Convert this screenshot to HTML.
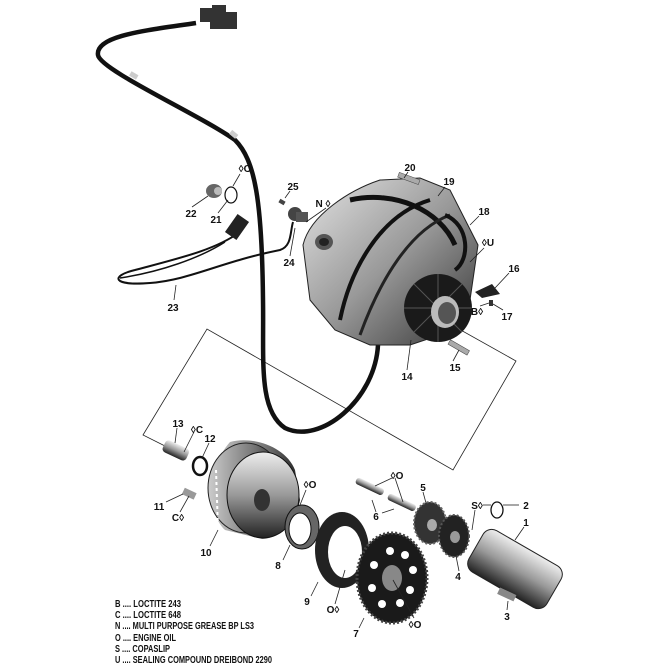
<!DOCTYPE html>
<html><head><meta charset="utf-8"><style>
html,body{margin:0;padding:0;background:#fff}
svg{display:block}
text{font-family:"Liberation Sans",sans-serif;font-weight:bold;font-size:10px;fill:#111}
.l{stroke:#222;stroke-width:0.8;fill:none}
</style></head><body>
<svg width="667" height="667" viewBox="0 0 667 667" xmlns="http://www.w3.org/2000/svg">
<defs>
<linearGradient id="g1" x1="0" y1="0" x2="1" y2="1"><stop offset="0" stop-color="#e4e4e4"/><stop offset="0.5" stop-color="#999"/><stop offset="1" stop-color="#333"/></linearGradient>
<linearGradient id="g2" x1="0" y1="0" x2="0" y2="1"><stop offset="0" stop-color="#eee"/><stop offset="0.5" stop-color="#999"/><stop offset="1" stop-color="#222"/></linearGradient>
<linearGradient id="g3" x1="0" y1="0" x2="1" y2="0"><stop offset="0" stop-color="#ccc"/><stop offset="0.6" stop-color="#777"/><stop offset="1" stop-color="#222"/></linearGradient>
</defs>
<rect width="667" height="667" fill="#fff"/>
<polyline class="l" points="165,446 143,435 207,329 453,470 516,361 425,310"/>
<path d="M196,23 C150,30 95,35 98,55 C100,70 200,115 235,140 C255,160 262,200 263,300 C264,360 258,410 285,428 C320,445 375,400 378,345" fill="none" stroke="#111" stroke-width="4.5"/>
<rect x="130" y="73" width="8" height="5" fill="#ccc" transform="rotate(30 134 75)"/>
<rect x="230" y="132" width="8" height="5" fill="#ccc" transform="rotate(40 234 134)"/>
<g fill="#333"><rect x="200" y="8" width="12" height="14"/><rect x="212" y="5" width="14" height="12"/><rect x="210" y="17" width="14" height="12"/><rect x="224" y="12" width="13" height="17"/></g>
<path d="M240,232 C215,250 180,258 135,270 C110,276 112,286 150,283 C190,280 220,262 280,250 C292,246 290,232 293,222" fill="none" stroke="#111" stroke-width="2"/>
<path d="M225,242 C200,258 160,272 120,278" fill="none" stroke="#111" stroke-width="1.5"/>
<rect x="230" y="216" width="14" height="22" fill="#222" transform="rotate(35 237 227)"/>
<circle cx="295" cy="214" r="7" fill="#444"/><rect x="296" y="212" width="12" height="10" fill="#555"/>
<ellipse cx="214" cy="191" rx="8" ry="7" fill="#666"/><ellipse cx="218" cy="191" rx="4" ry="4" fill="#bbb"/>
<ellipse cx="231" cy="195" rx="6" ry="8" fill="none" stroke="#111" stroke-width="1.2"/>
<rect x="279" y="200" width="6" height="4" fill="#444" transform="rotate(30 282 202)"/>
<path d="M303,245 C310,215 350,190 380,180 L420,178 L450,190 L478,245 L470,300 L455,330 L410,345 L370,345 L335,330 L310,300 Z" fill="url(#g1)" stroke="#222" stroke-width="1"/>
<path d="M350,200 C395,190 440,210 455,245" fill="none" stroke="#111" stroke-width="5"/>
<path d="M340,320 C350,270 380,215 430,200" fill="none" stroke="#111" stroke-width="4"/>
<path d="M360,335 C380,280 410,230 450,215" fill="none" stroke="#222" stroke-width="3"/>
<path d="M445,215 C470,225 470,260 455,270" fill="none" stroke="#111" stroke-width="4"/>
<ellipse cx="324" cy="242" rx="9" ry="8" fill="#555"/><ellipse cx="324" cy="242" rx="5" ry="4" fill="#222"/>
<circle cx="438" cy="308" r="34" fill="#1a1a1a"/>
<g stroke="#555" stroke-width="1">
<line x1="438" y1="274" x2="438" y2="342"/><line x1="404" y1="308" x2="472" y2="308"/><line x1="414" y1="284" x2="462" y2="332"/><line x1="462" y1="284" x2="414" y2="332"/>
</g>
<ellipse cx="445" cy="312" rx="14" ry="16" fill="#bbb"/><ellipse cx="447" cy="313" rx="9" ry="11" fill="#555"/>
<path d="M475,292 L492,284 L500,294 L482,298 Z" fill="#222"/>
<rect x="489" y="300" width="4" height="6" fill="#333"/>
<rect x="448" y="345" width="22" height="5" fill="#aaa" stroke="#444" stroke-width=".5" transform="rotate(30 459 347)"/>
<rect x="398" y="176" width="22" height="5" fill="#aaa" stroke="#444" stroke-width=".5" transform="rotate(20 409 178)"/>
<rect x="163" y="444" width="26" height="13" rx="4" fill="url(#g2)" transform="rotate(25 176 450)"/>
<ellipse cx="200" cy="466" rx="7" ry="9" fill="none" stroke="#111" stroke-width="2.5"/>
<rect x="183" y="490" width="13" height="7" fill="#999" transform="rotate(25 189 493)"/>
<!-- flywheel -->
<path d="M230,442 C250,436 285,445 295,470 L300,500 C295,525 280,538 262,539 L225,530 C208,515 205,470 230,442 Z" fill="url(#g3)"/>
<ellipse cx="246" cy="488" rx="38" ry="45" fill="url(#g3)" stroke="#222"/>
<ellipse cx="263" cy="495" rx="36" ry="43" fill="url(#g2)" stroke="#111"/>
<ellipse cx="262" cy="500" rx="8" ry="11" fill="#333"/>
<path d="M216,470 L218,530" stroke="#fff" stroke-width="2" stroke-dasharray="3 3"/>
<ellipse cx="302" cy="527" rx="17" ry="22" fill="#666" stroke="#111"/><ellipse cx="300" cy="529" rx="11" ry="16" fill="#fff" stroke="#111"/>
<ellipse cx="342" cy="550" rx="27" ry="38" fill="#222"/><ellipse cx="345" cy="552" rx="17" ry="26" fill="#fff"/>
<ellipse cx="392" cy="578" rx="35" ry="45" fill="#1a1a1a" stroke="#444" stroke-width="3" stroke-dasharray="2 2"/>
<g fill="#fff"><circle cx="390" cy="551" r="4"/><circle cx="405" cy="555" r="4"/><circle cx="413" cy="570" r="4"/><circle cx="410" cy="590" r="4"/><circle cx="400" cy="603" r="4"/><circle cx="382" cy="604" r="4"/><circle cx="372" cy="588" r="4"/><circle cx="374" cy="565" r="4"/></g>
<ellipse cx="392" cy="578" rx="10" ry="13" fill="#888"/>
<ellipse cx="430" cy="523" rx="16" ry="21" fill="#333" stroke="#666" stroke-width="2" stroke-dasharray="2 2"/><ellipse cx="432" cy="525" rx="5" ry="6" fill="#aaa"/>
<ellipse cx="454" cy="536" rx="15" ry="21" fill="#222" stroke="#555" stroke-width="2" stroke-dasharray="2 2"/><ellipse cx="455" cy="537" rx="5" ry="6" fill="#999"/>
<rect x="355" y="483" width="30" height="7" rx="3" fill="url(#g2)" transform="rotate(25 370 486)"/>
<rect x="387" y="499" width="30" height="7" rx="3" fill="url(#g2)" transform="rotate(25 402 502)"/>
<ellipse cx="497" cy="510" rx="6" ry="8" fill="none" stroke="#111" stroke-width="1.3"/>
<rect x="470" y="545" width="90" height="48" rx="10" fill="url(#g2)" stroke="#222" transform="rotate(30 515 569)"/>
<rect x="498" y="591" width="18" height="7" fill="#888" transform="rotate(25 507 594)"/>
<g class="l">
<line x1="408" y1="172" x2="404" y2="178"/><line x1="445" y1="187" x2="438" y2="196"/><line x1="479" y1="216" x2="470" y2="225"/>
<line x1="290" y1="191" x2="285" y2="198"/><line x1="326" y1="208" x2="306" y2="222"/>
<line x1="192" y1="207" x2="208" y2="196"/><line x1="218" y1="213" x2="228" y2="200"/><line x1="240" y1="174" x2="233" y2="186"/>
<line x1="290" y1="256" x2="295" y2="228"/><line x1="174" y1="300" x2="176" y2="285"/>
<line x1="484" y1="248" x2="470" y2="262"/><line x1="509" y1="273" x2="495" y2="288"/><line x1="480" y1="306" x2="489" y2="303"/><line x1="503" y1="310" x2="493" y2="304"/>
<line x1="407" y1="370" x2="411" y2="340"/><line x1="453" y1="361" x2="459" y2="350"/>
<line x1="177" y1="428" x2="175" y2="443"/><line x1="194" y1="432" x2="184" y2="452"/><line x1="209" y1="443" x2="202" y2="458"/>
<line x1="166" y1="502" x2="183" y2="494"/><line x1="180" y1="512" x2="189" y2="496"/><line x1="210" y1="546" x2="218" y2="530"/>
<line x1="306" y1="490" x2="300" y2="505"/><line x1="283" y1="560" x2="290" y2="545"/><line x1="311" y1="596" x2="318" y2="582"/><line x1="335" y1="604" x2="345" y2="570"/>
<line x1="359" y1="628" x2="364" y2="618"/><line x1="414" y1="618" x2="393" y2="580"/>
<line x1="392" y1="478" x2="375" y2="486"/><line x1="395" y1="478" x2="403" y2="502"/><line x1="376" y1="512" x2="372" y2="500"/><line x1="382" y1="513" x2="394" y2="509"/>
<line x1="423" y1="492" x2="426" y2="503"/><line x1="459" y1="571" x2="456" y2="556"/>
<line x1="483" y1="505" x2="491" y2="505"/><line x1="503" y1="505" x2="519" y2="505"/><line x1="475" y1="510" x2="472" y2="530"/>
<line x1="524" y1="527" x2="515" y2="540"/><line x1="507" y1="610" x2="508" y2="601"/>
</g>
<g text-anchor="middle">
<text x="410" y="171">20</text><text x="449" y="185">19</text><text x="484" y="215">18</text>
<text x="293" y="190">25</text><text x="323" y="207">N ◊</text>
<text x="191" y="217">22</text><text x="216" y="223">21</text><text x="245" y="172">◊O</text>
<text x="289" y="266">24</text><text x="173" y="311">23</text>
<text x="488" y="246">◊U</text><text x="514" y="272">16</text><text x="477" y="315">B◊</text><text x="507" y="320">17</text>
<text x="407" y="380">14</text><text x="455" y="371">15</text>
<text x="178" y="427">13</text><text x="197" y="433">◊C</text><text x="210" y="442">12</text>
<text x="159" y="510">11</text><text x="178" y="521">C◊</text><text x="206" y="556">10</text>
<text x="310" y="488">◊O</text><text x="278" y="569">8</text><text x="307" y="605">9</text><text x="333" y="613">O◊</text>
<text x="356" y="637">7</text><text x="415" y="628">◊O</text>
<text x="397" y="479">◊O</text><text x="423" y="491">5</text><text x="376" y="520">6</text>
<text x="477" y="509">S◊</text><text x="526" y="509">2</text><text x="526" y="526">1</text>
<text x="458" y="580">4</text><text x="507" y="620">3</text>
</g>
<g font-size="9">
<text x="115" y="607" textLength="66" lengthAdjust="spacingAndGlyphs">B .... LOCTITE 243</text>
<text x="115" y="618" textLength="66" lengthAdjust="spacingAndGlyphs">C .... LOCTITE 648</text>
<text x="115" y="629" textLength="139" lengthAdjust="spacingAndGlyphs">N .... MULTI PURPOSE GREASE BP LS3</text>
<text x="115" y="641" textLength="61" lengthAdjust="spacingAndGlyphs">O .... ENGINE OIL</text>
<text x="115" y="652" textLength="55" lengthAdjust="spacingAndGlyphs">S .... COPASLIP</text>
<text x="115" y="663" textLength="157" lengthAdjust="spacingAndGlyphs">U .... SEALING COMPOUND DREIBOND 2290</text>
</g>
</svg>
</body></html>
